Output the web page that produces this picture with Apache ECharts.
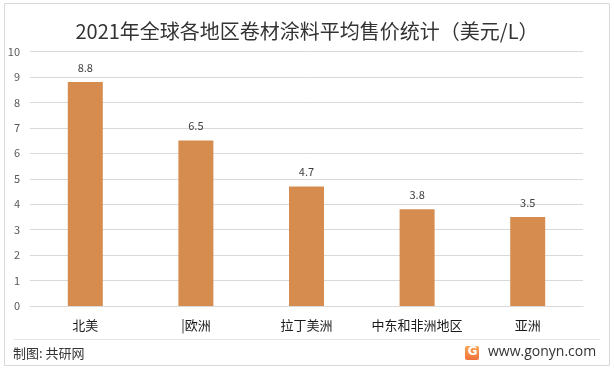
<!DOCTYPE html>
<html><head><meta charset="utf-8">
<script src="https://cdn.jsdelivr.net/npm/echarts@6/dist/echarts.min.js"></script>
<style>html,body{margin:0;padding:0;background:#fff}#c{width:614px;height:370px}</style>
</head><body><div id="c"></div>
<script>
const categories = ['北美', '|欧洲', '拉丁美洲', '中东和非洲地区', '亚洲'];
const values = [8.8, 6.5, 4.7, 3.8, 3.5];
const yTicks = [0, 1, 2, 3, 4, 5, 6, 7, 8, 9, 10];
const titleText = '2021年全球各地区卷材涂料平均售价统计（美元/L）';
const sourceText = '制图: 共研网';
const siteText = 'www.gonyn.com';

const font = '"Noto Sans CJK SC", "Noto Sans", sans-serif';
const chart = echarts.init(document.getElementById('c'), null, {renderer: 'canvas'});
chart.setOption({
  backgroundColor: '#fff',
  animation: false,
  title: {
    text: titleText, left: 'center', top: 16,
    textStyle: {fontFamily: font, fontSize: 20, fontWeight: 'normal', color: '#333'}
  },
  grid: {left: 30, right: 31, top: 51.5, bottom: 64},
  xAxis: {
    type: 'category', data: categories,
    axisLine: {lineStyle: {color: '#d9d9d9'}},
    axisTick: {show: false},
    axisLabel: {fontFamily: font, fontSize: 13, color: '#1a1a1a', margin: 13, interval: 0}
  },
  yAxis: {
    type: 'value', min: yTicks[0], max: yTicks[yTicks.length - 1], interval: 1,
    axisLine: {show: false}, axisTick: {show: false},
    axisLabel: {fontFamily: font, fontSize: 11, color: '#595959', margin: 10},
    splitLine: {lineStyle: {color: '#d9d9d9'}}
  },
  series: [{
    type: 'bar', data: values, barWidth: 35,
    itemStyle: {color: '#D58C4E'},
    label: {show: true, position: 'top', distance: 9, fontFamily: font, fontSize: 11, color: '#404040'}
  }],
  graphic: [
    {type: 'rect', shape: {x: 4.5, y: 3.5, width: 605, height: 362}, style: {fill: 'none', stroke: '#d9d9d9', lineWidth: 1}, silent: true},
    {type: 'line', shape: {x1: 14, y1: 339.5, x2: 600, y2: 339.5}, style: {stroke: '#e3e3e3', lineWidth: 1}},
    {type: 'text', left: 13, top: 347, style: {text: sourceText, font: '13px ' + font, fill: '#333'}},
    {type: 'text', left: 488, top: 345, style: {text: siteText, font: '14px "Open Sans", "DejaVu Sans", sans-serif', fill: '#333'}},
    {type: 'rect', shape: {x: 465, y: 346, width: 14, height: 14, r: 2},
      style: {fill: new echarts.graphic.LinearGradient(0, 0, 0, 1, [{offset: 0, color: '#F9A857'}, {offset: 1, color: '#F0703A'}])}},
    {type: 'text', left: 467.5, top: 346, style: {text: 'G', font: 'bold 12px "DejaVu Sans", sans-serif', fill: '#fff'}}
  ]
});
</script></body></html>
